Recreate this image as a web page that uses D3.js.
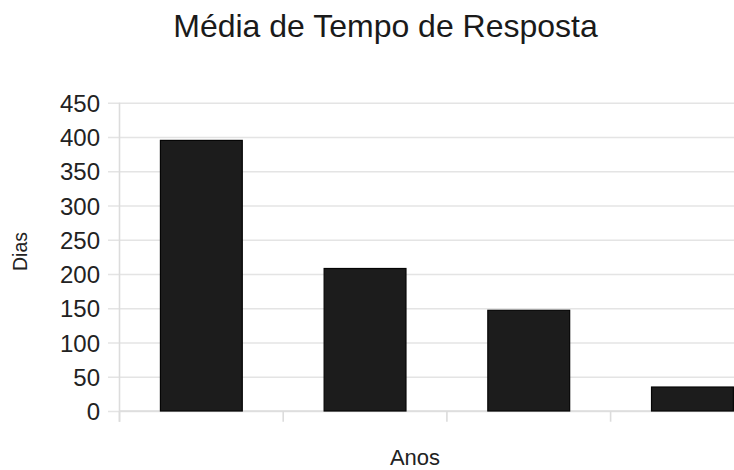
<!DOCTYPE html>
<html>
<head>
<meta charset="utf-8">
<script src="https://cdn.jsdelivr.net/npm/d3@7/dist/d3.min.js"></script>
<style>
  html, body { margin: 0; padding: 0; background: #fff; }
  svg { display: block; font-family: "Liberation Sans", Arial, sans-serif; }
</style>
</head>
<body>
<svg id="chart" width="734" height="470"></svg>
<script>
// Average response time per year (days)
const categories = ["1", "2", "3", "4"];
const values = [395, 208, 147, 35];
const yTicks = [0, 50, 100, 150, 200, 250, 300, 350, 400, 450];
const title = "Média de Tempo de Resposta";
const yTitle = "Dias";
const xTitle = "Anos";

const svg = d3.select("#chart");
const W = 734, H = 470;
const plot = { left: 119.5, right: 774.3, top: 102.7, bottom: 411 };

svg.append("rect").attr("width", W).attr("height", H).attr("fill", "#fff");

const x = d3.scaleBand()
  .domain(categories)
  .range([plot.left, plot.right])
  .paddingInner(0.5)
  .paddingOuter(0.25);

const y = d3.scaleLinear()
  .domain([0, 450])
  .range([plot.bottom, plot.top]);

// horizontal grid lines with small outward ticks
const grid = svg.append("g")
  .attr("transform", `translate(${plot.left},0)`)
  .call(d3.axisLeft(y).tickValues(yTicks).tickSize(-(plot.right - plot.left)).tickSizeOuter(0).tickFormat(""));
grid.select(".domain").remove();
grid.selectAll(".tick line")
  .attr("x1", -11.5)
  .attr("stroke", "#e4e4e4")
  .attr("stroke-width", 1.6);

// y tick labels
const yAxis = svg.append("g")
  .attr("transform", `translate(${plot.left},0)`)
  .call(d3.axisLeft(y).tickValues(yTicks).tickSize(0).tickPadding(19.5));
yAxis.select(".domain").remove();
yAxis.selectAll("text")
  .attr("font-size", 24)
  .attr("font-family", "'Liberation Sans', Arial, sans-serif")
  .attr("fill", "#222")
  .attr("dy", "0.36em");

// vertical axis line
svg.append("line")
  .attr("x1", plot.left).attr("x2", plot.left)
  .attr("y1", plot.top).attr("y2", plot.bottom + 10.7)
  .attr("stroke", "#dcdcdc").attr("stroke-width", 1.6);

// x axis with category separators
const step = x.step();
const sepPositions = categories.map((c, i) => plot.left + i * step);
const xAxis = svg.append("g")
  .attr("transform", `translate(0,${plot.bottom})`);
xAxis.append("line")
  .attr("x1", plot.left).attr("x2", plot.right)
  .attr("y1", 0).attr("y2", 0)
  .attr("stroke", "#dcdcdc").attr("stroke-width", 1.6);
xAxis.selectAll("line.sep")
  .data(sepPositions)
  .join("line")
  .attr("class", "sep")
  .attr("x1", d => d).attr("x2", d => d)
  .attr("y1", 0).attr("y2", 10.7)
  .attr("stroke", "#dcdcdc").attr("stroke-width", 1.6);

// bars
svg.append("g")
  .selectAll("rect")
  .data(values)
  .join("rect")
  .attr("x", (d, i) => x(categories[i]))
  .attr("y", d => y(d))
  .attr("width", x.bandwidth())
  .attr("height", d => y(0) - y(d))
  .attr("fill", "#1c1c1c")
  .attr("stroke", "#050505")
  .attr("stroke-width", 1.2);

// titles
svg.append("text")
  .attr("x", 385.5).attr("y", 37)
  .attr("text-anchor", "middle")
  .attr("font-size", 32)
  .attr("fill", "#1a1a1a")
  .text(title);

svg.append("text")
  .attr("x", 415).attr("y", 465)
  .attr("text-anchor", "middle")
  .attr("font-size", 22)
  .attr("fill", "#222")
  .text(xTitle);

svg.append("text")
  .attr("transform", "translate(26.5,251.5) rotate(-90)")
  .attr("text-anchor", "middle")
  .attr("font-size", 19.5)
  .attr("fill", "#222")
  .text(yTitle);
</script>
</body>
</html>
